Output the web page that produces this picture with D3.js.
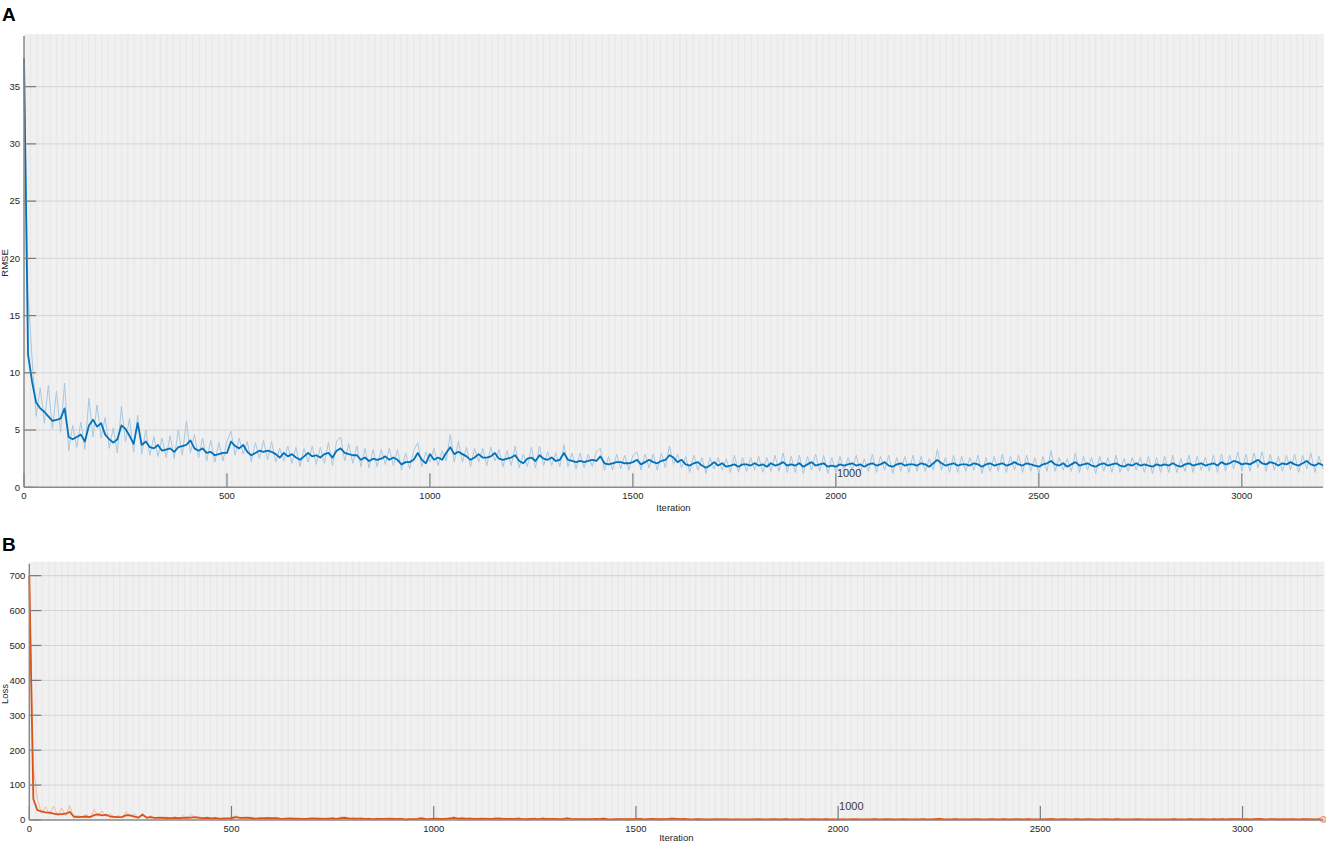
<!DOCTYPE html>
<html><head><meta charset="utf-8">
<script src="https://cdn.jsdelivr.net/npm/d3@7"></script>
<style>
body{margin:0;background:#fff;}
svg{display:block;font-family:"Liberation Sans",Arial,sans-serif;}
</style>
</head><body>
<svg id="chart" width="1326" height="844"></svg>
<script>
// ---- data (sampled every 10 iterations) ----
const sampleStep = 10;
const epochLength = 16;
const xTicks = [0, 500, 1000, 1500, 2000, 2500, 3000];
const rmseTicks = [0, 5, 10, 15, 20, 25, 30, 35];
const lossTicks = [0, 100, 200, 300, 400, 500, 600, 700];

const rmseRaw = [
37.5,16.8,11.2,6.2,8.7,5.6,8.9,5.1,8.4,4.8,
9.1,3.2,5.4,3.5,5.7,3.3,7.8,4.4,7.2,4.3,
6.1,3.4,5.2,3.0,7.1,4.0,6.0,3.1,6.3,2.9,
5.0,2.8,4.4,2.7,4.3,2.6,4.5,2.5,5.0,2.8,
5.8,3.0,4.6,2.6,4.3,2.3,4.1,2.2,3.9,2.3,
4.0,4.9,2.8,4.3,2.9,4.0,2.2,3.9,2.5,4.1,
2.4,4.0,2.2,3.4,2.3,3.6,2.1,3.5,1.8,3.4,
2.2,3.6,2.0,3.5,2.1,3.9,1.9,4.0,4.4,2.3,
3.8,2.1,3.6,1.8,3.4,1.7,3.3,1.8,3.3,2.0,
3.4,1.9,3.3,1.5,3.0,1.6,3.2,3.9,1.8,3.1,
2.2,3.4,1.9,3.2,2.3,4.6,2.2,4.0,2.2,3.5,
1.8,3.4,2.2,3.4,1.9,3.5,2.3,3.3,1.8,3.2,
1.9,3.6,1.7,2.9,1.8,3.5,1.7,3.6,1.9,3.1,
1.9,3.0,1.8,3.7,1.8,3.0,1.6,3.0,1.7,2.9,
1.8,3.1,3.4,1.5,2.7,1.5,2.9,1.6,2.8,1.5,
2.8,3.1,1.5,2.9,1.7,2.9,1.5,3.0,1.7,3.6,
2.0,2.9,1.7,2.7,1.3,2.8,1.5,2.6,1.2,2.6,
1.6,2.6,1.5,2.5,1.3,2.8,1.3,2.6,1.4,2.6,
1.5,2.7,1.3,2.6,1.4,2.8,1.4,3.0,1.3,2.7,
1.3,2.8,1.2,2.7,1.5,2.9,1.4,2.8,1.2,2.6,
1.3,2.7,1.4,2.6,1.5,2.8,1.3,2.5,1.4,2.9,
1.3,2.7,1.5,2.8,1.2,2.6,1.4,2.7,1.3,2.8,
1.4,2.7,1.4,2.5,1.5,3.3,1.5,2.6,1.3,2.8,
1.3,2.7,1.4,2.6,1.5,2.8,1.2,2.6,1.4,2.7,
1.4,2.9,1.3,2.7,1.5,2.8,1.3,2.8,1.4,2.6,
1.2,2.7,1.4,3.2,1.4,2.6,1.5,2.5,1.4,3.0,
1.3,2.7,1.5,2.6,1.2,2.7,1.4,2.6,1.3,2.8,
1.3,2.5,1.4,2.6,1.5,2.6,1.3,2.7,1.2,2.6,
1.3,2.7,1.3,2.8,1.3,2.5,1.4,2.8,1.3,2.7,
1.5,2.6,1.4,2.8,1.3,2.9,1.4,2.8,1.6,3.1,
1.4,2.9,1.4,3.0,1.7,3.1,1.4,2.9,1.5,2.7,
1.4,2.8,1.5,2.9,1.3,2.8,1.6,3.0,1.3,2.7,
1.6];

const rmseSmooth = [
37.5,11.6,9.2,7.4,6.9,6.6,6.2,5.8,5.9,6.0,
6.9,4.4,4.2,4.4,4.6,4.0,5.4,5.9,5.3,5.6,
4.6,4.2,3.9,4.2,5.4,5.1,4.5,3.8,5.6,3.7,
4.0,3.5,3.4,3.7,3.2,3.3,3.4,3.1,3.5,3.6,
3.7,4.1,3.4,3.2,3.4,3.0,3.1,2.8,2.9,3.0,
3.0,4.0,3.6,3.4,3.7,3.1,2.8,3.0,3.2,3.1,
3.2,3.1,2.9,2.6,3.0,2.7,2.9,2.6,2.4,2.7,
3.0,2.7,2.8,2.6,2.9,3.0,2.6,3.2,3.4,3.0,
2.9,2.8,2.8,2.4,2.6,2.3,2.5,2.4,2.5,2.7,
2.4,2.6,2.4,2.0,2.2,2.2,2.4,3.0,2.4,2.1,
2.9,2.4,2.6,2.4,3.0,3.5,2.9,3.1,2.9,2.7,
2.4,2.6,2.9,2.6,2.6,2.7,3.0,2.5,2.4,2.5,
2.6,2.8,2.3,2.1,2.5,2.6,2.3,2.8,2.5,2.4,
2.6,2.3,2.4,3.0,2.4,2.3,2.2,2.3,2.2,2.3,
2.4,2.3,2.7,2.1,2.0,2.1,2.2,2.2,2.1,2.1,
2.2,2.4,2.0,2.2,2.4,2.2,2.1,2.3,2.4,2.8,
2.6,2.2,2.4,2.0,1.9,2.1,2.2,1.9,1.7,1.9,
2.2,1.9,2.1,1.8,1.9,2.0,1.8,2.0,2.0,1.9,
2.1,1.9,2.0,1.8,2.1,1.9,2.0,2.2,1.9,2.0,
1.9,2.1,1.8,2.0,2.2,1.9,2.0,2.1,1.8,1.9,
1.8,2.0,1.9,2.0,2.1,1.9,2.0,1.8,2.0,2.1,
1.9,2.0,2.2,1.9,1.8,2.0,2.1,1.9,2.0,2.0,
1.9,2.1,2.0,1.8,2.1,2.4,2.1,1.9,2.0,2.1,
1.9,2.0,2.0,1.9,2.1,2.0,1.8,2.0,2.1,1.9,
2.0,2.1,1.9,2.0,2.2,2.0,1.9,2.1,2.0,1.9,
1.8,2.0,2.1,2.3,2.0,1.9,2.1,1.8,2.0,2.2,
1.9,2.0,2.1,1.9,1.8,2.0,2.1,1.9,2.0,2.1,
1.9,1.8,2.0,1.9,2.1,1.9,2.0,1.9,1.8,2.0,
1.9,2.0,1.9,2.1,1.9,1.8,2.0,2.1,1.9,2.0,
2.1,1.9,2.0,2.1,1.9,2.2,2.0,2.1,2.3,2.2,
2.0,2.1,2.0,2.2,2.4,2.1,2.0,2.2,2.1,1.9,
2.1,2.0,2.2,2.0,1.9,2.1,2.3,2.0,1.9,2.1,
1.9];

const lossRaw = [
700,150,62,19,38,16,40,13,35,12,
41,5,15,6,16,5,30,10,26,9,
19,6,14,4.5,25,8,18,5,20,4,
12.5,4,10,3.6,9,3.4,10,3,12.5,4,
17,4.5,10.6,3.4,9,2.6,8.4,2.4,7.6,2.6,
8,12,3.9,9.2,4.2,8,2.4,7.6,3.1,8.4,
2.9,8,2.4,5.8,2.6,6.5,2.2,6.1,1.6,5.8,
2.4,6.5,2,6.1,2.2,7.6,1.8,8,9.7,2.6,
7.2,2.2,6.5,1.6,5.8,1.4,5.4,1.6,5.4,2,
5.8,1.8,5.4,1.1,4.5,1.3,5.1,7.6,1.6,4.8,
2.4,5.8,1.8,5.1,2.6,10.6,2.4,8,2.4,6.1,
1.6,5.8,2.4,5.8,1.8,6.1,2.6,5.4,1.6,5.1,
1.8,6.5,1.4,4.2,1.6,6.1,1.4,6.5,1.8,4.8,
1.8,4.5,1.6,6.8,1.6,4.5,1.3,4.5,1.4,4.2,
1.6,4.8,5.8,1.1,3.6,1.1,4.2,1.3,3.9,1.1,
3.9,4.8,1.1,4.2,1.4,4.2,1.1,4.5,1.4,6.5,
2,4.2,1.4,3.6,0.8,3.9,1.1,3.4,0.7,3.4,
1.3,3.4,1.1,3.1,0.8,3.9,0.8,3.4,1,3.4,
1.1,3.6,0.8,3.4,1,3.9,1,4.5,0.8,3.6,
0.8,3.9,0.7,3.6,1.1,4.2,1,3.9,0.7,3.4,
0.8,3.6,1,3.4,1.1,3.9,0.8,3.1,1,4.2,
0.8,3.6,1.1,3.9,0.7,3.4,1,3.6,0.8,3.9,
1,3.6,1,3.1,1.1,5.4,1.1,3.4,0.8,3.9,
0.8,3.6,1,3.4,1.1,3.9,0.7,3.4,1,3.6,
1,4.2,0.8,3.6,1.1,3.9,0.8,3.9,1,3.4,
0.7,3.6,1,5.1,1,3.4,1.1,3.1,1,4.5,
0.8,3.6,1.1,3.4,0.7,3.6,1,3.4,0.8,3.9,
0.8,3.1,1,3.4,1.1,3.4,0.8,3.6,0.7,3.4,
0.8,3.6,0.8,3.9,0.8,3.1,1,3.9,0.8,3.6,
1.1,3.4,1,3.9,0.8,4.2,1,3.9,1.3,4.8,
1,4.2,1,4.5,1.4,4.8,1,4.2,1.1,3.6,
1,3.9,1.1,4.2,0.8,3.9,1.3,4.5,0.8,3.6,
1.3];

const lossSmooth = [
700,60,28,25,22,21,18,16,17,18,
23,10,8,9,10,8,14,16,13,15,
10,9,8,9,14,13,10,7,15,7,
8,6,6,7,5,5.5,6,5,6,6.5,
7,8,6,5,6,4.5,5,4,4,4.5,
4.5,8,6.5,6,7,5,4,4.5,5,5,
5,5,4,3.4,4.5,3.6,4,3.4,3,3.6,
4.5,3.6,4,3.4,4,4.5,3.4,5,5.8,4.5,
4,4,4,3,3.4,2.6,3,3,3,3.6,
3,3.4,3,2,2.4,2.4,3,4.5,3,2.2,
4,3,3.4,3,4.5,6,4,4.8,4,3.6,
3,3.4,4,3.4,3.4,3.6,4.5,3,3,3,
3.4,4,2.6,2.2,3,3.4,2.6,4,3,3,
3.4,2.6,3,4.5,3,2.6,2.4,2.6,2.4,2.6,
3,2.6,3.6,2.2,2,2.2,2.4,2.4,2.2,2.2,
2.4,3,2,2.4,3,2.4,2.2,2.6,3,4,
3.4,2.4,3,2,1.8,2.2,2.4,1.8,1.4,1.8,
2.4,1.8,2.2,1.6,1.8,2,1.6,2,2,1.8,
2.2,1.8,2,1.6,2.2,1.8,2,2.4,1.8,2,
1.8,2.2,1.6,2,2.4,1.8,2,2.2,1.6,1.8,
1.6,2,1.8,2,2.2,1.8,2,1.6,2,2.2,
1.8,2,2.4,1.8,1.6,2,2.2,1.8,2,2,
1.8,2.2,2,1.6,2.2,2.9,2.2,1.8,2,2.2,
1.8,2,2,1.8,2.2,2,1.6,2,2.2,1.8,
2,2.2,1.8,2,2.4,2,1.8,2.2,2,1.8,
1.6,2,2.2,2.6,2,1.8,2.2,1.6,2,2.4,
1.8,2,2.2,1.8,1.6,2,2.2,1.8,2,2.2,
1.8,1.6,2,1.8,2.2,1.8,2,1.8,1.6,2,
1.8,2,1.8,2.2,1.8,1.6,2,2.2,1.8,2,
2.2,1.8,2,2.2,1.8,2.4,2,2.2,2.6,2.4,
2,2.2,2,2.4,2.9,2.2,2,2.4,2.2,1.8,
2.2,2,2.4,2,1.8,2.2,2.6,2,1.8,2.2,
1.8];

// ---- drawing ----
const svg = d3.select("#chart");

function panel(cfg) {
  const g = svg.append("g");
  const x = d3.scaleLinear().domain([0, 3200]).range([cfg.left, cfg.right]);
  const y = d3.scaleLinear().domain([0, cfg.yMax]).range([cfg.bottom, cfg.top]);

  g.append("rect").attr("x", cfg.left).attr("y", cfg.top)
    .attr("width", cfg.right - cfg.left + 1).attr("height", cfg.bottom - cfg.top)
    .attr("fill", "#f0f0f0");

  g.append("g").selectAll("line").data(d3.range(epochLength, 3200, epochLength)).join("line")
    .attr("x1", d => x(d)).attr("x2", d => x(d))
    .attr("y1", cfg.top).attr("y2", cfg.bottom)
    .attr("stroke", "#e4e4e4").attr("stroke-width", 0.8);

  g.append("g").selectAll("line").data(cfg.yTicks.filter(t => t > 0)).join("line")
    .attr("x1", cfg.left).attr("x2", cfg.right)
    .attr("y1", d => y(d)).attr("y2", d => y(d))
    .attr("stroke", "#d4d4d4").attr("stroke-width", 1);

  const iters = d3.range(cfg.raw.length).map(i => i * sampleStep);
  const line = d3.line().x((d, i) => x(iters[i])).y(d => y(d));
  g.append("path").datum(cfg.raw).attr("d", line)
    .attr("fill", "none").attr("stroke", cfg.rawColor).attr("stroke-width", 1);
  g.append("path").datum(cfg.smooth).attr("d", line)
    .attr("fill", "none").attr("stroke", cfg.color).attr("stroke-width", 1.8)
    .attr("stroke-linejoin", "round");

  if (cfg.endMarker) {
    const n = cfg.smooth.length - 1;
    g.append("circle").attr("cx", x(iters[n])).attr("cy", y(cfg.smooth[n])).attr("r", 3)
      .attr("fill", "#f7cbb8").attr("stroke", "#ec8c64").attr("stroke-width", 1);
  }

  g.append("g").selectAll("line").data(cfg.yTicks).join("line")
    .attr("x1", cfg.left).attr("x2", cfg.left + 12)
    .attr("y1", d => y(d)).attr("y2", d => y(d))
    .attr("stroke", "#7a7a7a").attr("stroke-width", 1.2);
  g.append("g").selectAll("text").data(cfg.yTicks).join("text")
    .attr("x", cfg.left - 4).attr("y", d => y(d)).attr("dy", "0.35em")
    .attr("text-anchor", "end").attr("font-size", 9.5).attr("fill", "#262626")
    .text(d => d);

  g.append("g").selectAll("line").data(xTicks).join("line")
    .attr("x1", d => x(d)).attr("x2", d => x(d))
    .attr("y1", cfg.bottom).attr("y2", cfg.bottom - 14)
    .attr("stroke", "#7a7a7a").attr("stroke-width", 1.2);
  g.append("g").selectAll("text").data(xTicks).join("text")
    .attr("x", d => x(d)).attr("y", cfg.bottom + 12)
    .attr("text-anchor", "middle").attr("font-size", 9.5).attr("fill", "#262626")
    .text(d => d);

  g.append("line").attr("x1", cfg.left).attr("x2", cfg.left)
    .attr("y1", cfg.top + 2).attr("y2", cfg.bottom)
    .attr("stroke", "#8a8a8a").attr("stroke-width", 1.5);
  g.append("line").attr("x1", cfg.left).attr("x2", cfg.right)
    .attr("y1", cfg.bottom).attr("y2", cfg.bottom)
    .attr("stroke", "#8a8a8a").attr("stroke-width", 1.5);

  g.append("text").attr("x", x(2000) + 1).attr("y", cfg.bottom - 10)
    .attr("font-size", 11).attr("fill", "#3a3a3a").text("1000");

  g.append("text").attr("x", (cfg.left + cfg.right) / 2).attr("y", cfg.titleY)
    .attr("text-anchor", "middle").attr("font-size", 9.5).attr("fill", "#262626")
    .text("Iteration");
  g.append("text").attr("transform", `translate(${cfg.yLabelX},${cfg.yLabelY}) rotate(-90)`)
    .attr("text-anchor", "middle").attr("font-size", 9.5).attr("fill", "#262626")
    .text(cfg.yLabel);
  g.append("text").attr("x", 2).attr("y", cfg.letterY)
    .attr("font-size", 19).attr("font-weight", "bold").attr("fill", "#000")
    .text(cfg.letter);
}

panel({
  left: 24, right: 1323, top: 34, bottom: 487.3, yMax: 39.6,
  yTicks: rmseTicks, raw: rmseRaw, smooth: rmseSmooth,
  color: "#0072BD", rawColor: "#a9c8e0", titleY: 510.5,
  yLabel: "RMSE", yLabelX: 7.5, yLabelY: 263, letter: "A", letterY: 20.5
});
panel({
  left: 29.3, right: 1323.4, top: 561.7, bottom: 820, yMax: 740,
  yTicks: lossTicks, raw: lossRaw, smooth: lossSmooth,
  color: "#D95319", rawColor: "#efbba5", endMarker: true, titleY: 840.5,
  yLabel: "Loss", yLabelX: 7.5, yLabelY: 694, letter: "B", letterY: 551
});
</script>
</body></html>
